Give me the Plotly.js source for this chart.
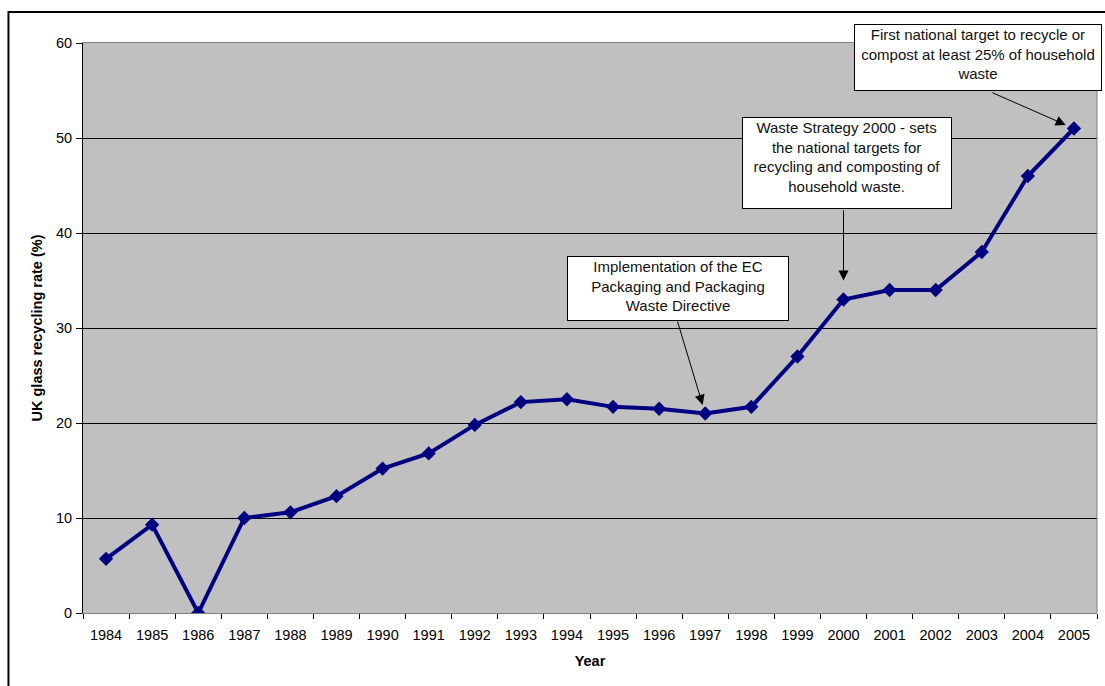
<!DOCTYPE html>
<html>
<head>
<meta charset="utf-8">
<script src="https://cdn.plot.ly/plotly-3.0.1.min.js"></script>
<style>
  html, body { margin: 0; padding: 0; background: #fff; }
  #chart { width: 1105px; height: 686px; }
</style>
</head>
<body>
<div id="chart"></div>
<script>
// UK glass recycling rate by year
const years = ['1984','1985','1986','1987','1988','1989','1990','1991','1992','1993','1994',
               '1995','1996','1997','1998','1999','2000','2001','2002','2003','2004','2005'];
const rate = [5.7, 9.3, 0, 10.0, 10.6, 12.3, 15.2, 16.8, 19.8, 22.2, 22.5,
              21.7, 21.5, 21.0, 21.7, 27.0, 33.0, 34.0, 34.0, 38.0, 46.0, 51.0];

// Policy milestones annotated on the series
const eventYears = ['1997', '2000', '2005'];
const eventTexts = [
  'Implementation of the EC<br>Packaging and Packaging<br>Waste Directive',
  'Waste Strategy 2000 - sets<br>the national targets for<br>recycling and composting of<br>household waste.',
  'First national target to recycle or<br>compost at least 25% of household<br>waste'
];

const FONT = '"Liberation Sans", Arial, sans-serif';

const trace = {
  type: 'scatter',
  mode: 'lines+markers',
  x: years,
  y: rate,
  line: { color: '#000080', width: 4 },
  marker: { symbol: 'diamond', size: 11, color: '#000080' },
  hoverinfo: 'x+y'
};

// note boxes (paper coords) and their arrows (pixel offsets from the point)
const boxes = [
  { x: 0.5868, y: 0.5693, w: 218, h: 61 },
  { x: 0.7535, y: 0.7895, w: 206, h: 88 },
  { x: 0.8826, y: 0.9746, w: 244, h: 63 }
];
const arrows = [
  { ax: -28, ay: -93, standoff: 9 },
  { ax: 0, ay: -90, standoff: 19 },
  { ax: -82, ay: -36, standoff: 9 }
];

const annotations = [];
eventYears.forEach((yr, i) => {
  const idx = years.indexOf(yr);
  annotations.push({
    x: idx, y: rate[idx], xref: 'x', yref: 'y',
    text: ' ', font: { size: 1 }, borderpad: 0,
    showarrow: true, arrowhead: 2, arrowsize: 2, arrowwidth: 1, arrowcolor: '#000',
    ax: arrows[i].ax, ay: arrows[i].ay, standoff: arrows[i].standoff
  });
});
eventTexts.forEach((t, i) => {
  const b = boxes[i];
  annotations.push({
    x: b.x, y: b.y, xref: 'paper', yref: 'paper',
    xanchor: 'center', yanchor: 'middle',
    text: t, showarrow: false,
    width: b.w, height: b.h, align: 'center', valign: 'top',
    bgcolor: '#fff', bordercolor: '#000', borderwidth: 1, borderpad: 1,
    font: { family: FONT, size: 15, color: '#111' }
  });
});

const layout = {
  width: 1105,
  height: 686,
  margin: { l: 83, r: 8, t: 43, b: 73 },
  paper_bgcolor: '#fff',
  plot_bgcolor: '#c0c0c0',
  showlegend: false,
  font: { family: FONT, color: '#000' },
  xaxis: {
    type: 'category',
    categoryorder: 'array', categoryarray: years,
    range: [-0.5, years.length - 0.5], autorange: false,
    tickson: 'boundaries',
    ticks: 'outside', ticklen: 5, tickcolor: '#000', tickwidth: 1,
    tickangle: 0, ticklabelstandoff: 9,
    showgrid: false,
    showline: true, linecolor: '#808080', linewidth: 1, mirror: true,
    tickfont: { family: FONT, size: 14.5, color: '#000' },
    title: { text: 'Year', font: { family: FONT, size: 14.5, weight: 'bold', color: '#000' }, standoff: 13 },
    fixedrange: true
  },
  yaxis: {
    range: [0, 60], dtick: 10,
    ticks: 'outside', ticklen: 6, tickcolor: '#000', tickwidth: 1,
    ticklabelstandoff: 1,
    showgrid: true, gridcolor: '#000', gridwidth: 1,
    zeroline: false,
    showline: true, linecolor: '#000', linewidth: 1,
    tickfont: { family: FONT, size: 14.5, color: '#000' },
    title: { text: 'UK glass recycling rate (%)', font: { family: FONT, size: 14.5, weight: 'bold', color: '#000' }, standoff: 9 },
    fixedrange: true
  },
  shapes: [
    // right edge of the plot area
    { type: 'line', xref: 'paper', yref: 'paper', x0: 1, x1: 1, y0: 0, y1: 1,
      line: { color: '#808080', width: 1 }, layer: 'above' },
    // chart frame
    { type: 'rect', xref: 'paper', yref: 'paper',
      x0: -0.0735, x1: 1.03, y0: -0.16, y1: 1.0544,
      line: { color: '#000', width: 2 }, fillcolor: 'rgba(0,0,0,0)', layer: 'above' }
  ],
  annotations: annotations
};

Plotly.newPlot('chart', [trace], layout, { displayModeBar: false, staticPlot: true });
</script>
</body>
</html>
